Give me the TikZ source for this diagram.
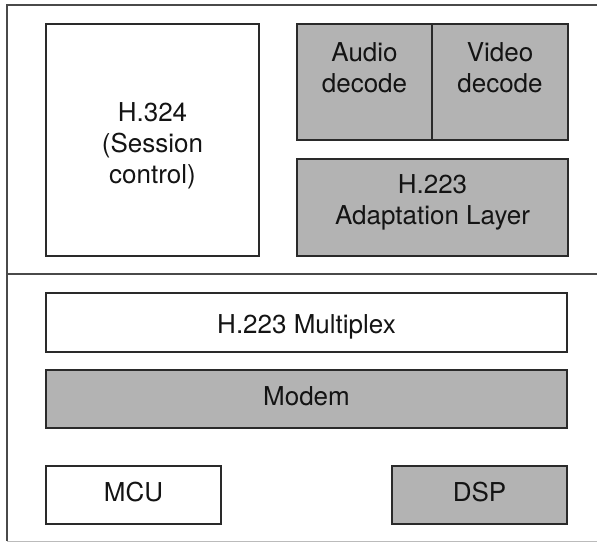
\documentclass[tikz,border=0pt]{standalone}
\usepackage{fontspec}
\setmainfont{TeX Gyre Heros}
\definecolor{boxfill}{HTML}{B3B3B3}
\definecolor{edge}{HTML}{2A2A2A}
\definecolor{frame}{HTML}{4A4A4A}
\definecolor{lightframe}{HTML}{BBBBBB}
\begin{document}
\begin{tikzpicture}[x=1pt,y=-1pt,
  blk/.style={draw=edge,line width=1.7pt,inner sep=0pt,outer sep=0pt},
  grayblk/.style={blk,fill=boxfill},
  txt/.style={inner sep=0pt,outer sep=0pt,align=center,font=\fontsize{26}{31}\selectfont,text=black!92}]
\useasboundingbox (0,0) rectangle (597,542);
% outer frame
\coordinate (tl) at (7,5);
\coordinate (tr) at (597,5);
\coordinate (bl) at (7,541);
\coordinate (br) at (597,541);
\coordinate (dl) at (7,274);
\coordinate (dr) at (597,274);
\draw[frame,line width=1.9pt] (tr) -- (tl) -- (bl);
\draw[lightframe,line width=1pt] (bl) -- (br);
\draw[frame,line width=1.9pt] (dl) -- (dr);
% top section
\node[blk,minimum width=213pt,minimum height=232pt] (h324) at (152.5,140) {};
\node[txt,anchor=north] (h324t) at (152.5,103) {H.324\\(Session\\control)};
\node[grayblk,minimum width=135pt,minimum height=116pt] (audio) at (364.5,82) {};
\node[grayblk,minimum width=136pt,minimum height=116pt] (video) at (500,82) {};
\node[txt,anchor=north] (audiot) at (364.5,43) {Audio\\decode};
\node[txt,anchor=north] (videot) at (500,43) {Video\\decode};
\node[grayblk,minimum width=271pt,minimum height=97pt] (adapt) at (432.5,207.5) {};
\node[txt,anchor=north] (adaptt) at (432.5,175) {H.223\\Adaptation Layer};
% bottom section
\node[blk,fill=white,minimum width=521pt,minimum height=59pt] (mux) at (306.5,322.5) {};
\node[txt,anchor=base] (muxt) at (306.5,333) {H.223 Multiplex};
\node[grayblk,minimum width=521pt,minimum height=58pt] (modem) at (306.5,399) {};
\node[txt,anchor=base] (modemt) at (306.5,405) {Modem};
\node[blk,minimum width=175pt,minimum height=58pt] (mcu) at (133.5,495) {};
\node[txt,anchor=base] (mcut) at (133.5,501) {MCU};
\node[grayblk,minimum width=175pt,minimum height=58pt] (dsp) at (479.5,495) {};
\node[txt,anchor=base] (dspt) at (479.5,501) {DSP};
\end{tikzpicture}
\end{document}
